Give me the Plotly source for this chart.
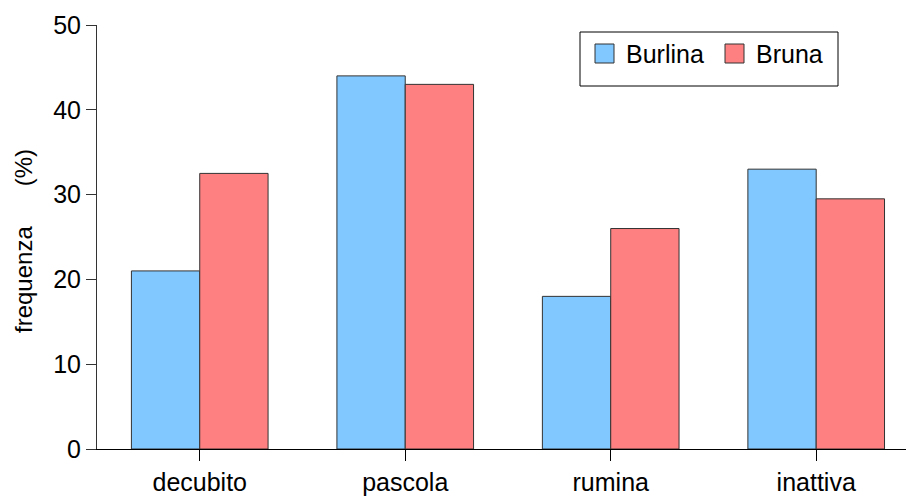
import plotly.graph_objects as go

# Activity categories and percentage frequencies per breed
categories = ["decubito", "pascola", "rumina", "inattiva"]
burlina = [21, 44, 18, 33]
bruna = [32.5, 43, 26, 29.5]
series_names = ["Burlina", "Bruna"]
y_ticks = [0, 10, 20, 30, 40, 50]
y_title = "frequenza" + "\u00a0" * 6 + "(%)"

BLUE = "#80C8FF"
RED = "#FF8080"
EDGE = "#333333"
FONT = "Liberation Sans, Arial, sans-serif"

W, H = 906, 497
M_L, M_R, M_T, M_B = 97, 0, 25, 48

fig = go.Figure()
fig.add_trace(go.Bar(x=categories, y=burlina, name=series_names[0],
                     marker=dict(color=BLUE, line=dict(color=EDGE, width=1))))
fig.add_trace(go.Bar(x=categories, y=bruna, name=series_names[1],
                     marker=dict(color=RED, line=dict(color=EDGE, width=1))))

# Hand-drawn legend box in pixel space, converted to paper coordinates
plot_w = W - M_L - M_R
plot_h = H - M_T - M_B


def px(x):
    return (x - M_L) / plot_w


def py(y):
    return (H - M_B - y) / plot_h


shapes = [
    dict(type="rect", xref="paper", yref="paper",
         x0=px(580), x1=px(838), y0=py(86), y1=py(32),
         line=dict(color="#000000", width=1), fillcolor="white"),
    dict(type="rect", xref="paper", yref="paper",
         x0=px(595), x1=px(614), y0=py(63), y1=py(44),
         line=dict(color=EDGE, width=1), fillcolor=BLUE),
    dict(type="rect", xref="paper", yref="paper",
         x0=px(725), x1=px(744), y0=py(63), y1=py(44),
         line=dict(color=EDGE, width=1), fillcolor=RED),
]
annotations = [
    dict(xref="paper", yref="paper", x=px(624), y=py(54), text=series_names[0],
         showarrow=False, xanchor="left", yanchor="middle",
         font=dict(family=FONT, size=25, color="black")),
    dict(xref="paper", yref="paper", x=px(754), y=py(54), text=series_names[1],
         showarrow=False, xanchor="left", yanchor="middle",
         font=dict(family=FONT, size=25, color="black")),
    # y-axis title
    dict(xref="paper", yref="paper", x=px(23), y=py(241), text=y_title,
         showarrow=False, xanchor="center", yanchor="middle", textangle=-90,
         font=dict(family=FONT, size=24, color="black")),
]

fig.update_layout(
    width=W, height=H,
    margin=dict(l=M_L, r=M_R, t=M_T, b=M_B),
    paper_bgcolor="white", plot_bgcolor="white",
    barmode="group", bargap=0.335, bargroupgap=0,
    showlegend=False,
    font=dict(family=FONT, size=25, color="black"),
    shapes=shapes, annotations=annotations,
    xaxis=dict(
        type="category", range=[-0.5, 3.437],
        showline=True, linecolor="#000000", linewidth=1,
        ticks="outside", ticklen=11, tickcolor="#000000", tickwidth=1,
        showgrid=False, zeroline=False,
        tickfont=dict(family=FONT, size=25, color="black"),
    ),
    yaxis=dict(
        range=[0, 50], tickvals=y_ticks,
        showline=True, linecolor="#333333", linewidth=1,
        ticks="outside", ticklen=10, tickcolor="#333333", tickwidth=1,
        showgrid=False, zeroline=False,
        tickfont=dict(family=FONT, size=25, color="black"),
    ),
)

fig.write_html("out.html")
